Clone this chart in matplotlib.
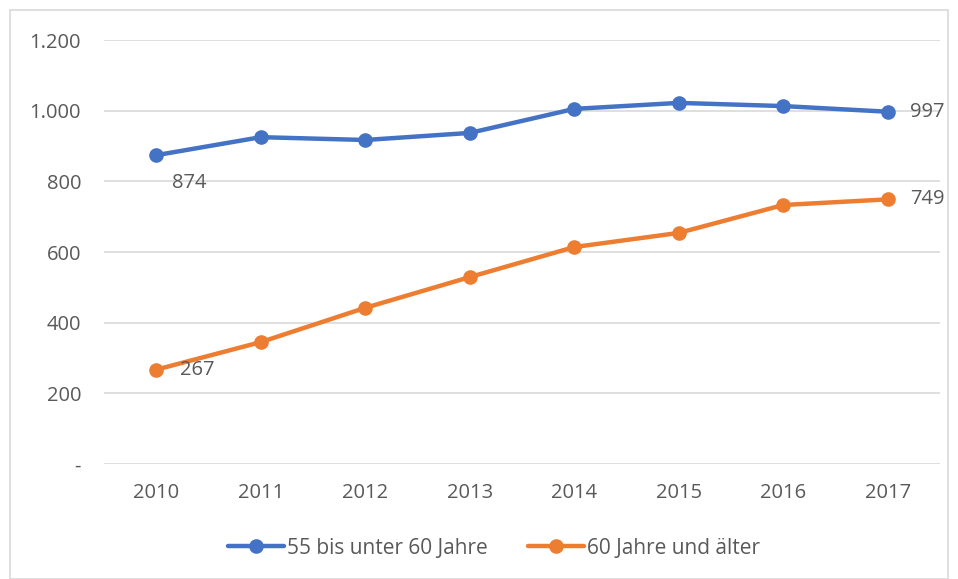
import matplotlib
matplotlib.use("Agg")
import matplotlib.pyplot as plt
from matplotlib.patches import Rectangle

years = ["2010", "2011", "2012", "2013", "2014", "2015", "2016", "2017"]
age_55_60 = [874, 925, 917, 937, 1005, 1022, 1013, 997]
age_60_plus = [267, 345, 442, 529, 614, 654, 733, 749]
series_names = ["55 bis unter 60 Jahre", "60 Jahre und älter"]
y_ticks = [0, 200, 400, 600, 800, 1000, 1200]
y_tick_labels = ["-", "200", "400", "600", "800", "1.000", "1.200"]

plt.rcParams["font.family"] = ["Open Sans", "DejaVu Sans"]
text_col = "#595959"
grid_col = "#d9d9d9"
blue = "#4472C4"
orange = "#ED7D31"
fs = 14.5

fig = plt.figure(figsize=(9.58, 5.79), dpi=100)
ax = fig.add_axes([104 / 958, 1 - 464 / 579, 836 / 958, 424 / 579])

# Rahmen um das ganze Diagramm
fig.patches.append(Rectangle((10 / 958, 0), 938 / 958, 1 - 10 / 579, transform=fig.transFigure,
                             fill=False, edgecolor=grid_col, linewidth=1.2))

x = list(range(len(years)))
for vals, col, name in [(age_55_60, blue, series_names[0]), (age_60_plus, orange, series_names[1])]:
    ax.plot(x, vals, color=col, linewidth=3.2, marker="o", markersize=9.5,
            solid_capstyle="round", label=name, zorder=3)

ax.set_xlim(-0.5, len(years) - 0.5)
ax.set_ylim(0, 1200)
ax.set_yticks(y_ticks)
ax.set_yticklabels(y_tick_labels)
ax.set_xticks(x)
ax.set_xticklabels(years)
ax.grid(axis="y", color=grid_col, linewidth=1.2, zorder=0)
for s in ax.spines.values():
    s.set_visible(False)
ax.tick_params(length=0, labelsize=fs, labelcolor=text_col)
ax.tick_params(axis="y", pad=16.5)
ax.tick_params(axis="x", pad=14)

# Datenbeschriftungen
lab_kw = dict(textcoords="offset pixels", fontsize=fs, color=text_col, va="center", ha="left")
ax.annotate(f"{age_55_60[0]}", (0, age_55_60[0]), xytext=(16, -28), **lab_kw)
ax.annotate(f"{age_55_60[-1]}", (7, age_55_60[-1]), xytext=(22, 0), **lab_kw)
ax.annotate(f"{age_60_plus[0]}", (0, age_60_plus[0]), xytext=(24, 0), **lab_kw)
ax.annotate(f"{age_60_plus[-1]}", (7, age_60_plus[-1]), xytext=(22, 0), **lab_kw)

leg = fig.legend(loc="center", bbox_to_anchor=(494 / 958, 1 - 548 / 579), ncol=2, frameon=False,
                 fontsize=15, handlelength=2.7, handletextpad=0.15, columnspacing=1.9)
for t in leg.get_texts():
    t.set_color(text_col)

fig.savefig("out.png", dpi=100)
